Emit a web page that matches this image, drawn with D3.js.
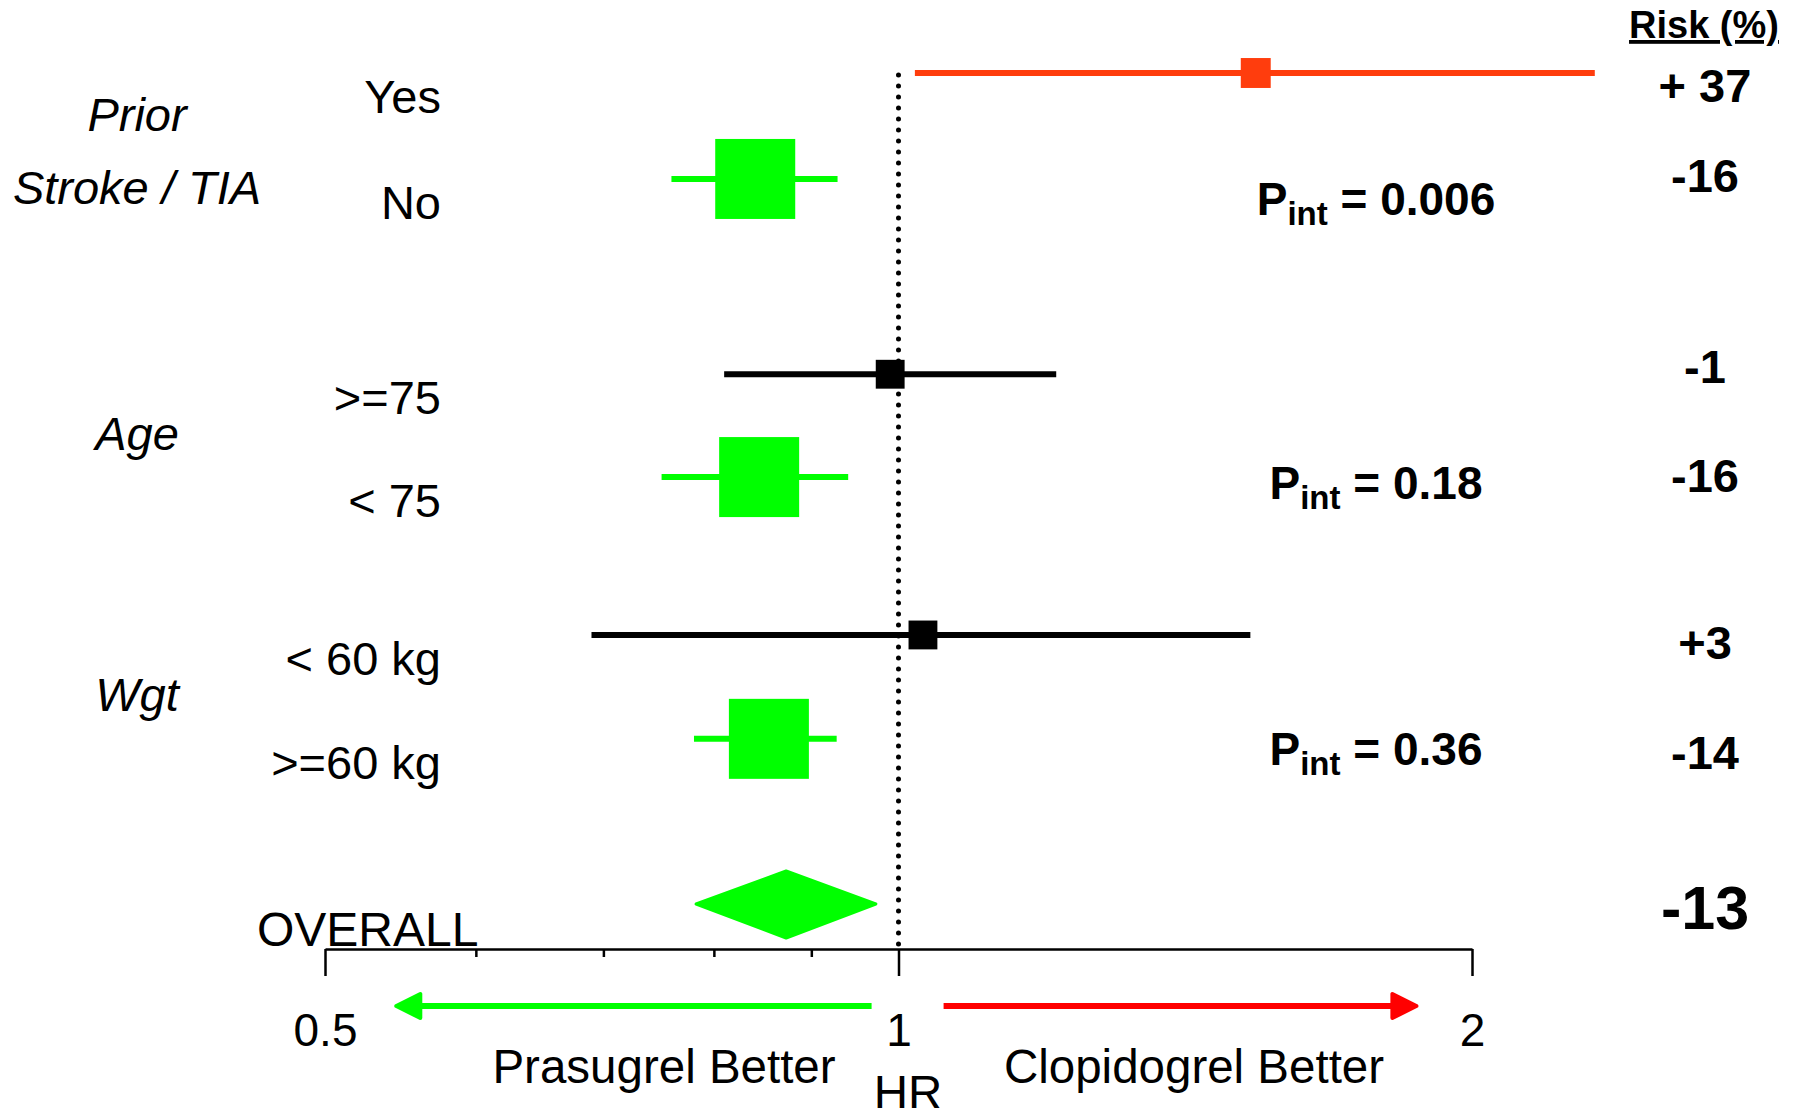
<!DOCTYPE html>
<meta charset="utf-8">
<style>
body{
    margin: 0;
    background: #fff;
}

svg text{
    font-family: "Liberation Sans", Arial, sans-serif;
    fill: #000;
}

.group-label{
    font-size: 47px;
    font-style: italic;
    text-anchor: middle;
}

.row-label{
    font-size: 47px;
    text-anchor: end;
}

.overall-label{
    font-size: 48px;
}

.risk{
    font-size: 47px;
    font-weight: bold;
    text-anchor: middle;
}

.risk.overall{
    font-size: 61px;
}

.risk-head{
    font-size: 38px;
    font-weight: bold;
    text-anchor: middle;
    text-decoration: underline;
}

.pint{
    font-size: 46px;
    font-weight: bold;
    text-anchor: middle;
}

.axis path, .axis line{
    stroke: #000;
    stroke-width: 2.5;
}

.axis text{
    font-size: 46px;
    fill: #000;
}

.bottom-label{
    font-size: 47.5px;
    text-anchor: middle;
}

.ref-line{
    stroke: #000;
    stroke-width: 5;
    stroke-dasharray: 0 11;
    stroke-linecap: round;
}

.whisker{
    stroke-width: 6;
}
</style>
<svg width="1810" height="1108"></svg>
<script src="https://d3js.org/d3.v7.min.js"></script>
<script>

// subgroup rows
var subgroups = ['Yes', 'No', '>=75', '< 75', '< 60 kg', '>=60 kg'];
var hr      = [1.54, 0.841, 0.99, 0.845, 1.03, 0.855];
var lower   = [1.02, 0.76, 0.81, 0.751, 0.69, 0.781];
var upper   = [2.32, 0.929, 1.21, 0.941, 1.53, 0.928];
var weight  = [0.14, 1, 0.13, 1, 0.13, 1];
var risk    = ['+ 37', '-16', '-1', '-16', '+3', '-14'];

var groupNames = [['Prior', 'Stroke / TIA'], ['Age'], ['Wgt']];
var groupRows  = [[0, 1], [2, 3], [4, 5]];
var pInt       = ['0.006', '0.18', '0.36'];

var overallHR   = [0.783, 0.873, 0.973]; // lower, estimate, upper
var overallRisk = '-13';

var majorTicks = [0.5, 1, 2];
var minorTicks = [0.6, 0.7, 0.8, 0.9];

var colour = {
    harm: '#ff3d0d',
    none: '#000',
    benefit: '#00ff00',
    arrowR: '#ff0000'
};

// layout: row slots (uneven gaps between groups, as on the slide)
var rowSlot = [0, 1.02, 2.9, 3.89, 5.41, 6.41];
var riskSlot = [0.28, 1.15, 2.98, 4.03, 5.64, 6.7];
var pSlot = [1.37, 4.1, 6.66];
var overallSlot = 8;

var svg = d3.select('svg');

var x = d3.scaleLog()
    .domain([0.5, 2])
    .range([325, 1472]);

var y = d3.scaleLinear()
    .domain([0, overallSlot])
    .range([73, 904]);

var size = d3.scaleSqrt()
    .domain([0, 1])
    .range([0, 80]);

var axisY = y(overallSlot) + 45;

function rowColour(i){
    if (lower[i] > 1) return colour.harm;
    if (upper[i] < 1) return colour.benefit;
    return colour.none;
}

var rows = subgroups.map(function(d, i){
    return {
        label: d,
        hr: hr[i],
        lo: lower[i],
        hi: upper[i],
        w: weight[i],
        risk: risk[i],
        y: y(rowSlot[i]),
        ry: y(riskSlot[i]),
        colour: rowColour(i)
    };
});

// reference line at HR = 1
svg.append('line')
    .attr('class', 'ref-line')
    .attr('x1', x(1))
    .attr('x2', x(1))
    .attr('y1', y(0) + 2)
    .attr('y2', axisY);

// axis
svg.append('g')
    .attr('class', 'axis')
    .attr('transform', 'translate(0,' + axisY + ')')
    .call(d3.axisBottom(x)
        .tickValues(majorTicks)
        .tickSize(27)
        .tickSizeOuter(0)
        .tickPadding(37)
        .tickFormat(d3.format('')));

svg.append('g')
    .attr('class', 'axis')
    .attr('transform', 'translate(0,' + axisY + ')')
    .call(d3.axisBottom(x)
        .tickValues(minorTicks)
        .tickSize(8)
        .tickFormat(''))
    .select('.domain').remove();

// subgroup estimates
var row = svg.append('g').selectAll('g')
    .data(rows)
    .enter()
    .append('g');

row.append('line')
    .attr('class', 'whisker')
    .attr('x1', function(d){ return x(d.lo); })
    .attr('x2', function(d){ return x(d.hi); })
    .attr('y1', function(d){ return d.y; })
    .attr('y2', function(d){ return d.y; })
    .attr('stroke', function(d){ return d.colour; });

row.append('rect')
    .attr('x', function(d){ return x(d.hr) - size(d.w) / 2; })
    .attr('y', function(d){ return d.y - size(d.w) / 2; })
    .attr('width', function(d){ return size(d.w); })
    .attr('height', function(d){ return size(d.w); })
    .attr('fill', function(d){ return d.colour; });

row.append('text')
    .attr('class', 'row-label')
    .attr('x', 441)
    .attr('y', function(d){ return d.y + 40; })
    .text(function(d){ return d.label; });

row.append('text')
    .attr('class', 'risk')
    .attr('x', 1705)
    .attr('y', function(d){ return d.ry; })
    .text(function(d){ return d.risk; });

// group labels and interaction p values
groupNames.forEach(function(lines, g){
    var mid = d3.mean(groupRows[g], function(i){ return y(rowSlot[i]); });
    var n = lines.length;
    svg.append('g').selectAll('text')
        .data(lines)
        .enter()
        .append('text')
        .attr('class', 'group-label')
        .attr('x', 137)
        .attr('y', function(d, i){ return mid + 24 + 18 * (n - 1) + (i - (n - 1) / 2) * 73; })
        .text(function(d){ return d; });

    var t = svg.append('text')
        .attr('class', 'pint')
        .attr('x', 1376)
        .attr('y', y(pSlot[g]));
    t.append('tspan').text('P');
    t.append('tspan').attr('font-size', 33).attr('dy', 10).text('int');
    t.append('tspan').attr('dy', -10).text(' = ' + pInt[g]);
});

// overall diamond
var oy = y(overallSlot);
svg.append('path')
    .attr('d', 'M' + x(overallHR[0]) + ',' + oy +
        'L' + x(overallHR[1]) + ',' + (oy - 33) +
        'L' + x(overallHR[2]) + ',' + oy +
        'L' + x(overallHR[1]) + ',' + (oy + 34) + 'Z')
    .attr('fill', colour.benefit)
    .attr('stroke', colour.benefit)
    .attr('stroke-width', 3)
    .attr('stroke-linejoin', 'round');

svg.append('text')
    .attr('class', 'overall-label')
    .attr('x', 257)
    .attr('y', oy + 42)
    .text('OVERALL');

svg.append('text')
    .attr('class', 'risk overall')
    .attr('x', 1705)
    .attr('y', oy + 25)
    .text(overallRisk);

svg.append('text')
    .attr('class', 'risk-head')
    .attr('x', 1704)
    .attr('y', 38)
    .text('Risk (%)');

// direction arrows under the axis
function arrow(from, to, col){
    var ay = axisY + 57;
    var dir = to > from ? 1 : -1;
    var base = x(to) - dir * 24;
    svg.append('line')
        .attr('x1', x(from))
        .attr('x2', base)
        .attr('y1', ay)
        .attr('y2', ay)
        .attr('stroke', col)
        .attr('stroke-width', 6);
    svg.append('path')
        .attr('d', 'M' + x(to) + ',' + ay + 'L' + base + ',' + (ay - 12) + 'L' + base + ',' + (ay + 12) + 'Z')
        .attr('fill', col)
        .attr('stroke', col)
        .attr('stroke-width', 4)
        .attr('stroke-linejoin', 'round');
}
arrow(0.968, 0.545, colour.benefit);
arrow(1.056, 1.87, colour.arrowR);

svg.append('text')
    .attr('class', 'bottom-label')
    .attr('x', 664)
    .attr('y', axisY + 134)
    .text('Prasugrel Better');

svg.append('text')
    .attr('class', 'bottom-label')
    .attr('x', 1194)
    .attr('y', axisY + 134)
    .text('Clopidogrel Better');

svg.append('text')
    .attr('class', 'bottom-label')
    .attr('x', 908)
    .attr('y', axisY + 160)
    .text('HR');

</script>
